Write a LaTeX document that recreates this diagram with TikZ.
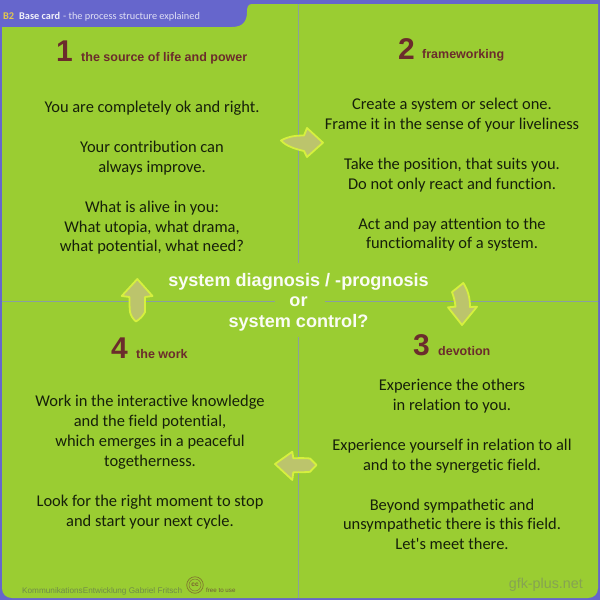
\documentclass[tikz,border=0pt]{standalone}
\usepackage{fontspec}
\setmainfont{Carlito}
\newfontfamily\bodyf[Ligatures=NoCommon]{Carlito}
\newfontfamily\arialf{Liberation Sans}
\definecolor{cardgreen}{HTML}{9ACD32}
\definecolor{framec}{HTML}{6666CC}
\definecolor{brownc}{HTML}{6B2C2C}
\definecolor{linec}{HTML}{8A9FA0}
\definecolor{arrowfill}{HTML}{BCC46C}
\definecolor{arrowedge}{HTML}{D6F03E}
\definecolor{textc}{HTML}{16200A}
\definecolor{footc}{HTML}{6F8A4A}
\definecolor{webc}{HTML}{86A352}
\tikzset{
 x=1pt,y=-1pt,
 bodytext/.style={font=\bodyf\fontsize{16.45}{19.9}\selectfont,text=textc,align=center,inner sep=0pt,anchor=north},
 numtext/.style={font=\arialf\bfseries\fontsize{30}{30}\selectfont,text=brownc,inner sep=0pt,anchor=base west},
 headtext/.style={font=\arialf\bfseries\fontsize{12.5}{14}\selectfont,text=brownc,inner sep=0pt,anchor=base west},
 cross/.style={draw=linec,line width=0.8pt},
 flow/.style={draw=arrowedge,fill=arrowfill,line width=1.8pt,line join=round}
}
\begin{document}
\begin{tikzpicture}
\useasboundingbox (0,0) rectangle (600,600);
\fill[framec] (0,0) rectangle (600,600);
\fill[cardgreen] (2,30) -- (2,27) -- (232,27) .. controls (243,27) and (247,21) .. (247,12) .. controls (247,7) and (248,4) .. (252,4) -- (598,4) -- (598,588) .. controls (598,594) and (594,598) .. (588,598) -- (12,598) .. controls (6,598) and (2,594) .. (2,588) -- cycle;
% cross lines
\draw[cross] (298.5,4) -- (298.5,263);
\draw[cross] (298.5,337) -- (298.5,598);
\draw[cross] (2,301.5) -- (275,301.5);
\draw[cross] (325,301.5) -- (598,301.5);
% title
\node[inner sep=0pt,anchor=base west,font=\fontsize{10.3}{12}\selectfont] (title) at (3,19) {\textcolor[HTML]{E2C84E}{\textbf{B2}}\hspace{5pt}\textcolor{white!92!framec}{\textbf{Base card}}\hspace{3pt}\textcolor{white!80!framec}{- the process structure explained}};
% headings
\node[numtext] (n1) at (56,61) {1};
\node[headtext] (h1) at (81,61) {the source of life and power};
\node[numtext] (n2) at (398,59) {2};
\node[headtext] (h2) at (422,58) {frameworking};
\node[numtext] (n3) at (413,355) {3};
\node[headtext] (h3) at (438,355) {devotion};
\node[numtext] (n4) at (111,358) {4};
\node[headtext] (h4) at (136,358) {the work};
% bodies
\node[bodytext] (b1) at (152,101) {You are completely ok and right.\\[19.9pt]Your contribution can\\always improve.\\[19.9pt]What is alive in you:\\What utopia, what drama,\\what potential, what need?};
\node[bodytext] (b2) at (452,98) {Create a system or select one.\\Frame it in the sense of your liveliness\\[19.9pt]Take the position, that suits you.\\Do not only react and function.\\[19.9pt]Act and pay attention to the\\functiomality of a system.};
\node[bodytext] (b3) at (452,379) {Experience the others\\in relation to you.\\[19.9pt]Experience yourself in relation to all\\and to the synergetic field.\\[19.9pt]Beyond sympathetic and\\unsympathetic there is this field.\\Let's meet there.};
\node[bodytext] (b4) at (150,395) {Work in the interactive knowledge\\and the field potential,\\which emerges in a peaceful\\togetherness.\\[19.9pt]Look for the right moment to stop\\and start your next cycle.};
% centre
\node[inner sep=0pt,align=center,text=white!95!cardgreen,font=\arialf\bfseries\fontsize{18.1}{20.5}\selectfont] (centre) at (298.5,302) {system diagnosis / -prognosis\\or\\system control?};
% arrows
\draw[flow] (323,142.7) -- (307,128) -- (304,135.5) .. controls (297,135.5) and (289,136) .. (281,140.5) .. controls (286,146) and (295,149) .. (304,151) -- (307,157) -- cycle;
\draw[flow] (462,325) -- (448,307.3) -- (455.5,306.7) .. controls (455,301) and (453.5,296) .. (452,292) -- (463.3,283) .. controls (468,290) and (470,298) .. (470,307) -- (477,306.7) -- cycle;
\draw[flow] (275,464) -- (292.3,451.7) -- (293.3,458.3) .. controls (300,458) and (306,458) .. (310,458.5) -- (316.5,465) -- (310,471.8) .. controls (305,472.3) and (299,472.3) .. (293.3,472.3) -- (292.3,480) -- cycle;
\draw[flow] (137.3,279) -- (121.7,296) -- (129.5,297) .. controls (129.5,304) and (129.5,308) .. (130,312) .. controls (131,316) and (133,319) .. (136,321.5) .. controls (140,319) and (143,316) .. (145,312) .. controls (145,307) and (145,302) .. (145,297) -- (152.5,296) -- cycle;
% footer
\node[inner sep=0pt,anchor=base west,text=footc,font=\arialf\fontsize{8.2}{11}\selectfont] (foot) at (22,593) {KommunikationsEntwicklung Gabriel Fritsch};
\node[draw=brownc!55!cardgreen,circle,minimum size=16.5pt,inner sep=0pt,line width=0.7pt] (cc) at (195,585) {};
\node[draw=brownc!55!cardgreen,circle,minimum size=12pt,inner sep=0pt,line width=0.5pt,text=brownc!70!cardgreen,font=\arialf\bfseries\fontsize{6.5}{7}\selectfont] (ccin) at (195,585) {cc};
\node[inner sep=0pt,anchor=base west,text=brownc!50!footc,font=\arialf\fontsize{6.2}{8}\selectfont] (free) at (206,592) {free to use};
\node[inner sep=0pt,anchor=base east,text=webc,font=\arialf\fontsize{14.3}{16}\selectfont] (web) at (583,588) {gfk-plus.net};
\end{tikzpicture}
\end{document}
